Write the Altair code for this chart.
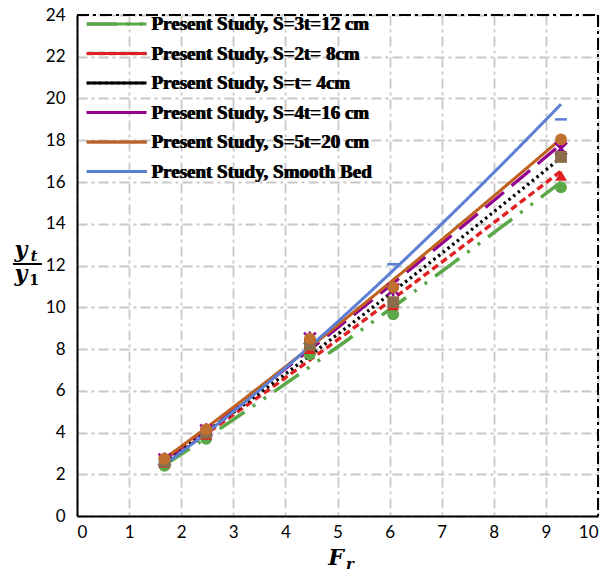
import altair as alt
import pandas as pd

# ---------------- data ----------------
Fr = [1.68, 2.48, 4.47, 6.07, 9.29]

series_names = [
    "Present Study, S=3t=12 cm",
    "Present Study, S=2t= 8cm",
    "Present Study, S=t= 4cm",
    "Present Study, S=4t=16 cm",
    "Present Study, S=5t=20 cm",
    "Present Study, Smooth Bed",
]
y_s3t = [2.40, 3.70, 7.75, 9.66, 15.74]
y_s2t = [2.55, 3.90, 8.00, 10.10, 16.30]
y_st = [2.60, 4.00, 8.20, 10.24, 17.20]
y_s4t = [2.70, 4.10, 8.50, 10.85, 17.60]
y_s5t = [2.75, 4.15, 8.50, 10.96, 18.04]
y_smooth = [2.45, 3.90, 8.45, 12.06, 19.00]
all_y = [y_s3t, y_s2t, y_st, y_s4t, y_s5t, y_smooth]

x_ticks = list(range(0, 11))
y_ticks = list(range(0, 25, 2))

# ---------------- styles ----------------
line_colors = ["#5aa847", "#e02020", "#000000", "#93008f", "#c1611f", "#5b7fd4"]
marker_colors = ["#5aa847", "#e02020", "#8b6d4c", "#93008f", "#c0702e", "#5b7fd4"]
dashes = [[30, 10, 3, 10, 3, 10], [7, 4], [2.5, 3.5], [24, 10], [1, 0], [1, 0]]
widths = [3.5, 3, 3.5, 3.5, 3, 2.5]
STAR = "M-1,-1L1,1M-1,1L1,-1M0,-1.2L0,1.2"
filled_shapes = {"circle", "triangle-up", "square"}
shapes = ["circle", "triangle-up", "square", STAR, "circle", "stroke"]
sizes = [140, 140, 90, 110, 140, 70]

rows = []
for name, ys in zip(series_names, all_y):
    for x, y in zip(Fr, ys):
        rows.append({"series": name, "Fr": x, "yt": y})
df = pd.DataFrame(rows)

W, H = 521, 501
GRID = "#c8c8c8"

xs = alt.Scale(domain=[0, 10], nice=False, zero=False)
ys = alt.Scale(domain=[0, 24], nice=False, zero=False)

x_enc = alt.X("Fr:Q", scale=xs,
              axis=alt.Axis(values=x_ticks, title=None, grid=True, ticks=False,
                            labelPadding=8, labelFontSize=17, labelFont="Lato",
                            labelColor="black", domainColor="black", domainWidth=2,
                            gridColor=GRID, gridDash=[10, 4, 3, 4], gridWidth=1.8))
y_enc = alt.Y("yt:Q", scale=ys,
              axis=alt.Axis(values=y_ticks, title=None, grid=True, ticks=False,
                            labelPadding=12, labelFontSize=17, labelFont="Lato",
                            labelColor="black", domainColor="black", domainWidth=2,
                            gridColor=GRID, gridDash=[10, 4, 3, 4], gridWidth=1.8))

lines = alt.Chart(df).transform_regression(
    "Fr", "yt", groupby=["series"], method="pow"
).mark_line(clip=False).encode(
    x=x_enc,
    y=y_enc,
    color=alt.Color("series:N", scale=alt.Scale(domain=series_names, range=line_colors),
                    legend=alt.Legend(title=None)),
    strokeDash=alt.StrokeDash("series:N", scale=alt.Scale(domain=series_names, range=dashes),
                              legend=alt.Legend(title=None)),
    strokeWidth=alt.StrokeWidth("series:N", scale=alt.Scale(domain=series_names, range=widths),
                                legend=None),
)

filled_names = [n for n, s in zip(series_names, shapes) if s in filled_shapes]
open_names = [n for n, s in zip(series_names, shapes) if s not in filled_shapes]

pt_color = alt.Color("series:N", scale=alt.Scale(domain=series_names, range=marker_colors), legend=None)
pt_shape = alt.Shape("series:N", scale=alt.Scale(domain=series_names, range=shapes), legend=None)
pt_size = alt.Size("series:N", scale=alt.Scale(domain=series_names, range=sizes), legend=None)

pts_filled = alt.Chart(df).transform_filter(
    alt.FieldOneOfPredicate(field="series", oneOf=filled_names)
).mark_point(filled=True, opacity=1).encode(
    x=alt.X("Fr:Q", scale=xs), y=alt.Y("yt:Q", scale=ys),
    color=pt_color, shape=pt_shape, size=pt_size)

pts_open = alt.Chart(df).transform_filter(
    alt.FieldOneOfPredicate(field="series", oneOf=open_names)
).mark_point(filled=False, opacity=1, strokeWidth=2.5).encode(
    x=alt.X("Fr:Q", scale=xs), y=alt.Y("yt:Q", scale=ys),
    color=pt_color, shape=pt_shape, size=pt_size)

one = pd.DataFrame({"k": [0]})
top_border = alt.Chart(one).mark_rule(color="black", strokeWidth=2, strokeDash=[12, 4, 3, 4]).encode(
    x=alt.value(0), x2=alt.value(W), y=alt.value(0))
right_border = alt.Chart(one).mark_rule(color="black", strokeWidth=2, strokeDash=[12, 4, 3, 4]).encode(
    x=alt.value(W), y=alt.value(0), y2=alt.value(H))

SERIF = "DejaVu Serif"
f_text = alt.Chart(one).mark_text(font=SERIF, fontSize=22, fontWeight="bold", fontStyle="italic",
                                  baseline="alphabetic", align="center").encode(
    x=alt.value(259), y=alt.value(550), text=alt.value("F"))
r_text = alt.Chart(one).mark_text(font=SERIF, fontSize=15, fontWeight="bold", fontStyle="italic",
                                  baseline="alphabetic", align="center").encode(
    x=alt.value(273), y=alt.value(554), text=alt.value("r"))

yt_text = alt.Chart(one).mark_text(font=SERIF, fontSize=22, fontWeight="bold", fontStyle="italic",
                                   baseline="alphabetic", align="center").encode(
    x=alt.value(-56), y=alt.value(242), text=alt.value("y"))
t_text = alt.Chart(one).mark_text(font=SERIF, fontSize=14, fontWeight="bold", fontStyle="italic",
                                  baseline="alphabetic", align="center").encode(
    x=alt.value(-43), y=alt.value(246), text=alt.value("t"))
frac = alt.Chart(one).mark_rule(color="black", strokeWidth=2).encode(
    x=alt.value(-64), x2=alt.value(-35), y=alt.value(249))
y1_text = alt.Chart(one).mark_text(font=SERIF, fontSize=22, fontWeight="bold", fontStyle="italic",
                                   baseline="alphabetic", align="center").encode(
    x=alt.value(-56), y=alt.value(266), text=alt.value("y"))
one_text = alt.Chart(one).mark_text(font=SERIF, fontSize=14, fontWeight="bold",
                                    baseline="alphabetic", align="center").encode(
    x=alt.value(-43), y=alt.value(270), text=alt.value("1"))

chart = alt.layer(
    lines, pts_open, pts_filled, top_border, right_border,
    f_text, r_text, yt_text, t_text, frac, y1_text, one_text
).resolve_scale(
    color="independent", shape="independent", size="independent"
).properties(
    width=W, height=H,
    autosize=alt.AutoSizeParams(type="none"),
    padding={"left": 77, "top": 15, "right": 10, "bottom": 59},
    background="white",
).configure_view(
    stroke=None
).configure_legend(
    orient="none", legendX=8, legendY=0,
    symbolType="stroke", symbolSize=3600, symbolStrokeWidth=3, clipHeight=18, rowPadding=10.5,
    labelFont="Liberation Serif", labelFontSize=19, labelFontWeight="bold", labelColor="black",
    labelLimit=400, labelOffset=3, padding=0, symbolOpacity=1,
)

chart.save("out.html", embed_options={"renderer": "svg", "actions": False})
